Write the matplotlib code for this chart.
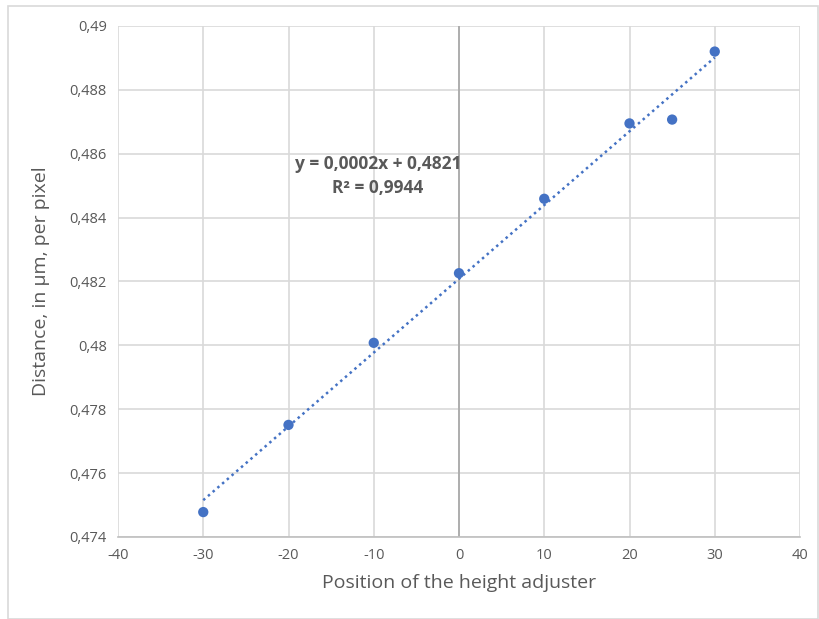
import numpy as np
import matplotlib
matplotlib.use("Agg")
import matplotlib.pyplot as plt
from matplotlib.ticker import FuncFormatter, MultipleLocator
from matplotlib.patches import Rectangle

# Data
position = [-30, -20, -10, 0, 10, 20, 25, 30]
distance = [0.47478, 0.47751, 0.48008, 0.48226, 0.48459, 0.48695, 0.48707, 0.48920]

plt.rcParams['font.family'] = ['Open Sans', 'DejaVu Sans']
grey = "#595959"

fig = plt.figure(figsize=(8.19, 6.19), dpi=100)
ax = fig.add_axes([118/819, 82/619, 682/819, 511/619])

# frame around the chart area
fig.patches.append(Rectangle((8/819, 0.0), 810/819, 613/619, transform=fig.transFigure,
                             fill=False, edgecolor="#d9d9d9", lw=1.2))

# linear trendline over the data range
slope, icpt = np.polyfit(position, distance, 1)
xs = np.array([min(position), max(position)])
ax.plot(xs, slope * xs + icpt, ls=(0, (1, 1.5)), color="#4472C4", lw=1.8, zorder=3)
ax.scatter(position, distance, s=55, color="#4472C4", zorder=4, edgecolors="none")

ax.set_xlim(-40, 40)
ax.set_ylim(0.474, 0.49)
ax.xaxis.set_major_locator(MultipleLocator(10))
ax.yaxis.set_major_locator(MultipleLocator(0.002))
ax.xaxis.set_major_formatter(FuncFormatter(lambda v, p: f"{v:g}".replace(".", ",")))
ax.yaxis.set_major_formatter(FuncFormatter(lambda v, p: f"{round(v, 4):g}".replace(".", ",")))

ax.grid(True, color="#d9d9d9", lw=1.2, zorder=0)
ax.set_axisbelow(True)
for s in ["top", "right", "left"]:
    ax.spines[s].set_visible(False)
ax.spines["bottom"].set_color("#bfbfbf")
ax.spines["bottom"].set_linewidth(1.2)
ax.axvline(0, color="#a6a6a6", lw=1.2, zorder=1)
ax.tick_params(length=0, labelsize=10.5, colors=grey, pad=8)

ax.set_xlabel("Position of the height adjuster", fontsize=14, color=grey, labelpad=8)
ax.set_ylabel("Distance, in µm, per pixel", fontsize=14, color=grey, labelpad=14)

ax.text(-9.5, 0.4853, "y = 0,0002x + 0,4821\nR² = 0,9944", ha="center", va="center",
        fontsize=12.5, fontweight="bold", color=grey, linespacing=1.4)

fig.savefig("out.png", dpi=100)
